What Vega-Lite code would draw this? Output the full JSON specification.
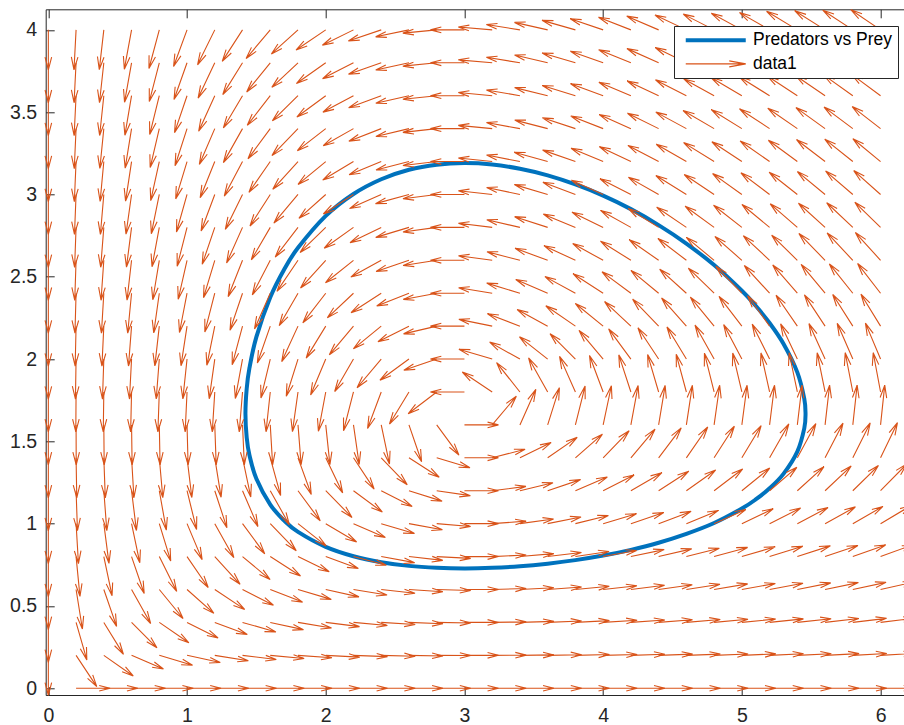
{
"$schema":"https://vega.github.io/schema/vega-lite/v6.json",
"width":858.3,"height":685.7,
"autosize":{"type":"none"},
"padding":{"left":45.7,"top":9.3,"right":0,"bottom":30},
"background":"white",
"config":{"view":{"stroke":null},"axis":{"grid":false,"domainColor":"#262626","domainWidth":1,"tickColor":"#262626","tickWidth":1,"labelColor":"#262626","labelFont":"Liberation Sans","labelFontSize":19.5,"labelFlush":false,"labelOverlap":false}},
"datasets":{
"orbit":[{"t":0,"x":1.421,"y":1.667},{"t":1,"x":1.43,"y":1.524},{"t":2,"x":1.45,"y":1.416},{"t":3,"x":1.5,"y":1.273},{"t":4,"x":1.6,"y":1.116},{"t":5,"x":1.7,"y":1.019},{"t":6,"x":1.8,"y":0.95},{"t":7,"x":2.0,"y":0.859},{"t":8,"x":2.2,"y":0.802},{"t":9,"x":2.4,"y":0.766},{"t":10,"x":2.6,"y":0.7435},{"t":11,"x":2.8,"y":0.732},{"t":12,"x":3.0,"y":0.728},{"t":13,"x":3.2,"y":0.7315},{"t":14,"x":3.4,"y":0.741},{"t":15,"x":3.6,"y":0.757},{"t":16,"x":3.8,"y":0.7785},{"t":17,"x":4.0,"y":0.806},{"t":18,"x":4.2,"y":0.841},{"t":19,"x":4.4,"y":0.884},{"t":20,"x":4.6,"y":0.938},{"t":21,"x":4.8,"y":1.004},{"t":22,"x":5.0,"y":1.092},{"t":23,"x":5.1,"y":1.147},{"t":24,"x":5.2,"y":1.215},{"t":25,"x":5.3,"y":1.3025},{"t":26,"x":5.4,"y":1.438},{"t":27,"x":5.45,"y":1.579},{"t":28,"x":5.459,"y":1.667},{"t":29,"x":5.45,"y":1.76},{"t":30,"x":5.4,"y":1.919},{"t":31,"x":5.3,"y":2.093},{"t":32,"x":5.2,"y":2.219},{"t":33,"x":5.1,"y":2.3235},{"t":34,"x":5.0,"y":2.415},{"t":35,"x":4.8,"y":2.571},{"t":36,"x":4.6,"y":2.702},{"t":37,"x":4.4,"y":2.814},{"t":38,"x":4.2,"y":2.911},{"t":39,"x":4.0,"y":2.993},{"t":40,"x":3.8,"y":3.061},{"t":41,"x":3.6,"y":3.116},{"t":42,"x":3.4,"y":3.156},{"t":43,"x":3.2,"y":3.182},{"t":44,"x":3.0,"y":3.191},{"t":45,"x":2.8,"y":3.181},{"t":46,"x":2.6,"y":3.15},{"t":47,"x":2.4,"y":3.0925},{"t":48,"x":2.2,"y":3.003},{"t":49,"x":2.0,"y":2.87},{"t":50,"x":1.8,"y":2.676},{"t":51,"x":1.7,"y":2.544},{"t":52,"x":1.6,"y":2.375},{"t":53,"x":1.5,"y":2.135},{"t":54,"x":1.45,"y":1.946},{"t":55,"x":1.43,"y":1.819}],
"field":[
{"x":0.2,"y":0,"d":0},{"x":0.4,"y":0,"d":0},{"x":0.6,"y":0,"d":0},{"x":0.8,"y":0,"d":0},{"x":1,"y":0,"d":0},{"x":1.2,"y":0,"d":0},{"x":1.4,"y":0,"d":0},{"x":1.6,"y":0,"d":0},{"x":1.8,"y":0,"d":0},{"x":2,"y":0,"d":0},{"x":2.2,"y":0,"d":0},{"x":2.4,"y":0,"d":0},{"x":2.6,"y":0,"d":0},{"x":2.8,"y":0,"d":0},{"x":3,"y":0,"d":0},{"x":3.2,"y":0,"d":0},{"x":3.4,"y":0,"d":0},{"x":3.6,"y":0,"d":0},{"x":3.8,"y":0,"d":0},{"x":4,"y":0,"d":0},{"x":4.2,"y":0,"d":0},{"x":4.4,"y":0,"d":0},{"x":4.6,"y":0,"d":0},{"x":4.8,"y":0,"d":0},{"x":5,"y":0,"d":0},{"x":5.2,"y":0,"d":0},{"x":5.4,"y":0,"d":0},{"x":5.6,"y":0,"d":0},{"x":5.8,"y":0,"d":0},{"x":6,"y":0,"d":0},
{"x":0,"y":0.2,"d":-90},{"x":0.2,"y":0.2,"d":-56.5},{"x":0.4,"y":0.2,"d":-35},{"x":0.6,"y":0.2,"d":-23.3},{"x":0.8,"y":0.2,"d":-16.5},{"x":1,"y":0.2,"d":-12.2},{"x":1.2,"y":0.2,"d":-9.2},{"x":1.4,"y":0.2,"d":-7},{"x":1.6,"y":0.2,"d":-5.4},{"x":1.8,"y":0.2,"d":-4.1},{"x":2,"y":0.2,"d":-3.1},{"x":2.2,"y":0.2,"d":-2.2},{"x":2.4,"y":0.2,"d":-1.5},{"x":2.6,"y":0.2,"d":-1},{"x":2.8,"y":0.2,"d":-0.4},{"x":3,"y":0.2,"d":0},{"x":3.2,"y":0.2,"d":0.4},{"x":3.4,"y":0.2,"d":0.7},{"x":3.6,"y":0.2,"d":1},{"x":3.8,"y":0.2,"d":1.3},{"x":4,"y":0.2,"d":1.5},{"x":4.2,"y":0.2,"d":1.8},{"x":4.4,"y":0.2,"d":2},{"x":4.6,"y":0.2,"d":2.1},{"x":4.8,"y":0.2,"d":2.3},{"x":5,"y":0.2,"d":2.5},{"x":5.2,"y":0.2,"d":2.6},{"x":5.4,"y":0.2,"d":2.7},{"x":5.6,"y":0.2,"d":2.9},{"x":5.8,"y":0.2,"d":3},{"x":6,"y":0.2,"d":3.1},
{"x":0,"y":0.4,"d":-90},{"x":0.2,"y":0.4,"d":-74},{"x":0.4,"y":0.4,"d":-58.4},{"x":0.6,"y":0.4,"d":-45},{"x":0.8,"y":0.4,"d":-34.5},{"x":1,"y":0.4,"d":-26.6},{"x":1.2,"y":0.4,"d":-20.5},{"x":1.4,"y":0.4,"d":-15.9},{"x":1.6,"y":0.4,"d":-12.3},{"x":1.8,"y":0.4,"d":-9.5},{"x":2,"y":0.4,"d":-7.1},{"x":2.2,"y":0.4,"d":-5.2},{"x":2.4,"y":0.4,"d":-3.6},{"x":2.6,"y":0.4,"d":-2.2},{"x":2.8,"y":0.4,"d":-1},{"x":3,"y":0.4,"d":0},{"x":3.2,"y":0.4,"d":0.9},{"x":3.4,"y":0.4,"d":1.7},{"x":3.6,"y":0.4,"d":2.4},{"x":3.8,"y":0.4,"d":3},{"x":4,"y":0.4,"d":3.6},{"x":4.2,"y":0.4,"d":4.1},{"x":4.4,"y":0.4,"d":4.5},{"x":4.6,"y":0.4,"d":5},{"x":4.8,"y":0.4,"d":5.4},{"x":5,"y":0.4,"d":5.7},{"x":5.2,"y":0.4,"d":6},{"x":5.4,"y":0.4,"d":6.3},{"x":5.6,"y":0.4,"d":6.6},{"x":5.8,"y":0.4,"d":6.9},{"x":6,"y":0.4,"d":7.1},
{"x":0,"y":0.6,"d":-90},{"x":0.2,"y":0.6,"d":-80.9},{"x":0.4,"y":0.6,"d":-70.9},{"x":0.6,"y":0.6,"d":-60.7},{"x":0.8,"y":0.6,"d":-50.7},{"x":1,"y":0.6,"d":-41.7},{"x":1.2,"y":0.6,"d":-33.7},{"x":1.4,"y":0.6,"d":-27},{"x":1.6,"y":0.6,"d":-21.3},{"x":1.8,"y":0.6,"d":-16.5},{"x":2,"y":0.6,"d":-12.5},{"x":2.2,"y":0.6,"d":-9.2},{"x":2.4,"y":0.6,"d":-6.3},{"x":2.6,"y":0.6,"d":-3.9},{"x":2.8,"y":0.6,"d":-1.8},{"x":3,"y":0.6,"d":0},{"x":3.2,"y":0.6,"d":1.6},{"x":3.4,"y":0.6,"d":3},{"x":3.6,"y":0.6,"d":4.2},{"x":3.8,"y":0.6,"d":5.4},{"x":4,"y":0.6,"d":6.3},{"x":4.2,"y":0.6,"d":7.3},{"x":4.4,"y":0.6,"d":8.1},{"x":4.6,"y":0.6,"d":8.8},{"x":4.8,"y":0.6,"d":9.5},{"x":5,"y":0.6,"d":10.1},{"x":5.2,"y":0.6,"d":10.7},{"x":5.4,"y":0.6,"d":11.2},{"x":5.6,"y":0.6,"d":11.7},{"x":5.8,"y":0.6,"d":12.1},{"x":6,"y":0.6,"d":12.5},
{"x":0,"y":0.8,"d":-90},{"x":0.2,"y":0.8,"d":-84.4},{"x":0.4,"y":0.8,"d":-78.1},{"x":0.6,"y":0.8,"d":-71.1},{"x":0.8,"y":0.8,"d":-63.5},{"x":1,"y":0.8,"d":-55.6},{"x":1.2,"y":0.8,"d":-47.6},{"x":1.4,"y":0.8,"d":-39.8},{"x":1.6,"y":0.8,"d":-32.6},{"x":1.8,"y":0.8,"d":-26},{"x":2,"y":0.8,"d":-20.1},{"x":2.2,"y":0.8,"d":-14.9},{"x":2.4,"y":0.8,"d":-10.3},{"x":2.6,"y":0.8,"d":-6.4},{"x":2.8,"y":0.8,"d":-3},{"x":3,"y":0.8,"d":0},{"x":3.2,"y":0.8,"d":2.6},{"x":3.4,"y":0.8,"d":4.9},{"x":3.6,"y":0.8,"d":6.9},{"x":3.8,"y":0.8,"d":8.7},{"x":4,"y":0.8,"d":10.3},{"x":4.2,"y":0.8,"d":11.8},{"x":4.4,"y":0.8,"d":13.1},{"x":4.6,"y":0.8,"d":14.3},{"x":4.8,"y":0.8,"d":15.3},{"x":5,"y":0.8,"d":16.3},{"x":5.2,"y":0.8,"d":17.2},{"x":5.4,"y":0.8,"d":18},{"x":5.6,"y":0.8,"d":18.7},{"x":5.8,"y":0.8,"d":19.4},{"x":6,"y":0.8,"d":20.1},
{"x":0,"y":1,"d":-90},{"x":0.2,"y":1,"d":-86.6},{"x":0.4,"y":1,"d":-82.6},{"x":0.6,"y":1,"d":-78.1},{"x":0.8,"y":1,"d":-73},{"x":1,"y":1,"d":-67.2},{"x":1.2,"y":1,"d":-60.7},{"x":1.4,"y":1,"d":-53.6},{"x":1.6,"y":1,"d":-46.1},{"x":1.8,"y":1,"d":-38.3},{"x":2,"y":1,"d":-30.7},{"x":2.2,"y":1,"d":-23.3},{"x":2.4,"y":1,"d":-16.5},{"x":2.6,"y":1,"d":-10.3},{"x":2.8,"y":1,"d":-4.8},{"x":3,"y":1,"d":0},{"x":3.2,"y":1,"d":4.2},{"x":3.4,"y":1,"d":8},{"x":3.6,"y":1,"d":11.2},{"x":3.8,"y":1,"d":14},{"x":4,"y":1,"d":16.5},{"x":4.2,"y":1,"d":18.7},{"x":4.4,"y":1,"d":20.7},{"x":4.6,"y":1,"d":22.4},{"x":4.8,"y":1,"d":24},{"x":5,"y":1,"d":25.4},{"x":5.2,"y":1,"d":26.7},{"x":5.4,"y":1,"d":27.8},{"x":5.6,"y":1,"d":28.9},{"x":5.8,"y":1,"d":29.8},{"x":6,"y":1,"d":30.7},
{"x":0,"y":1.2,"d":-90},{"x":0.2,"y":1.2,"d":-88},{"x":0.4,"y":1.2,"d":-85.7},{"x":0.6,"y":1.2,"d":-83},{"x":0.8,"y":1.2,"d":-79.9},{"x":1,"y":1.2,"d":-76.2},{"x":1.2,"y":1.2,"d":-71.9},{"x":1.4,"y":1.2,"d":-66.7},{"x":1.6,"y":1.2,"d":-60.7},{"x":1.8,"y":1.2,"d":-53.6},{"x":2,"y":1.2,"d":-45.5},{"x":2.2,"y":1.2,"d":-36.5},{"x":2.4,"y":1.2,"d":-27},{"x":2.6,"y":1.2,"d":-17.4},{"x":2.8,"y":1.2,"d":-8.3},{"x":3,"y":1.2,"d":0},{"x":3.2,"y":1.2,"d":7.3},{"x":3.4,"y":1.2,"d":13.5},{"x":3.6,"y":1.2,"d":18.7},{"x":3.8,"y":1.2,"d":23.2},{"x":4,"y":1.2,"d":27},{"x":4.2,"y":1.2,"d":30.2},{"x":4.4,"y":1.2,"d":32.9},{"x":4.6,"y":1.2,"d":35.3},{"x":4.8,"y":1.2,"d":37.3},{"x":5,"y":1.2,"d":39.1},{"x":5.2,"y":1.2,"d":40.7},{"x":5.4,"y":1.2,"d":42.1},{"x":5.6,"y":1.2,"d":43.4},{"x":5.8,"y":1.2,"d":44.5},{"x":6,"y":1.2,"d":45.5},
{"x":0,"y":1.4,"d":-90},{"x":0.2,"y":1.4,"d":-89},{"x":0.4,"y":1.4,"d":-87.9},{"x":0.6,"y":1.4,"d":-86.6},{"x":0.8,"y":1.4,"d":-85},{"x":1,"y":1.4,"d":-83.1},{"x":1.2,"y":1.4,"d":-80.9},{"x":1.4,"y":1.4,"d":-78.1},{"x":1.6,"y":1.4,"d":-74.6},{"x":1.8,"y":1.4,"d":-70.1},{"x":2,"y":1.4,"d":-64.3},{"x":2.2,"y":1.4,"d":-56.5},{"x":2.4,"y":1.4,"d":-46.1},{"x":2.6,"y":1.4,"d":-32.6},{"x":2.8,"y":1.4,"d":-16.5},{"x":3,"y":1.4,"d":0},{"x":3.2,"y":1.4,"d":14.6},{"x":3.4,"y":1.4,"d":26},{"x":3.6,"y":1.4,"d":34.7},{"x":3.8,"y":1.4,"d":41.2},{"x":4,"y":1.4,"d":46.1},{"x":4.2,"y":1.4,"d":49.9},{"x":4.4,"y":1.4,"d":52.9},{"x":4.6,"y":1.4,"d":55.3},{"x":4.8,"y":1.4,"d":57.3},{"x":5,"y":1.4,"d":59},{"x":5.2,"y":1.4,"d":60.4},{"x":5.4,"y":1.4,"d":61.6},{"x":5.6,"y":1.4,"d":62.6},{"x":5.8,"y":1.4,"d":63.5},{"x":6,"y":1.4,"d":64.3},
{"x":0,"y":1.6,"d":-90},{"x":0.2,"y":1.6,"d":-89.8},{"x":0.4,"y":1.6,"d":-89.5},{"x":0.6,"y":1.6,"d":-89.2},{"x":0.8,"y":1.6,"d":-88.9},{"x":1,"y":1.6,"d":-88.5},{"x":1.2,"y":1.6,"d":-88},{"x":1.4,"y":1.6,"d":-87.4},{"x":1.6,"y":1.6,"d":-86.6},{"x":1.8,"y":1.6,"d":-85.5},{"x":2,"y":1.6,"d":-84},{"x":2.2,"y":1.6,"d":-81.8},{"x":2.4,"y":1.6,"d":-78.1},{"x":2.6,"y":1.6,"d":-71.1},{"x":2.8,"y":1.6,"d":-53.6},{"x":3,"y":1.6,"d":0},{"x":3.2,"y":1.6,"d":49.9},{"x":3.4,"y":1.6,"d":65.9},{"x":3.6,"y":1.6,"d":72.5},{"x":3.8,"y":1.6,"d":76},{"x":4,"y":1.6,"d":78.1},{"x":4.2,"y":1.6,"d":79.6},{"x":4.4,"y":1.6,"d":80.6},{"x":4.6,"y":1.6,"d":81.4},{"x":4.8,"y":1.6,"d":82},{"x":5,"y":1.6,"d":82.5},{"x":5.2,"y":1.6,"d":82.9},{"x":5.4,"y":1.6,"d":83.2},{"x":5.6,"y":1.6,"d":83.5},{"x":5.8,"y":1.6,"d":83.8},{"x":6,"y":1.6,"d":84},
{"x":0,"y":1.8,"d":-90},{"x":0.2,"y":1.8,"d":-90.4},{"x":0.4,"y":1.8,"d":-90.8},{"x":0.6,"y":1.8,"d":-91.3},{"x":0.8,"y":1.8,"d":-92},{"x":1,"y":1.8,"d":-92.7},{"x":1.2,"y":1.8,"d":-93.6},{"x":1.4,"y":1.8,"d":-94.7},{"x":1.6,"y":1.8,"d":-96.1},{"x":1.8,"y":1.8,"d":-98},{"x":2,"y":1.8,"d":-100.6},{"x":2.2,"y":1.8,"d":-104.4},{"x":2.4,"y":1.8,"d":-110.5},{"x":2.6,"y":1.8,"d":-121.3},{"x":2.8,"y":1.8,"d":-142.7},{"x":3,"y":1.8,"d":180},{"x":3.2,"y":1.8,"d":146.3},{"x":3.4,"y":1.8,"d":128.5},{"x":3.6,"y":1.8,"d":119.3},{"x":3.8,"y":1.8,"d":114},{"x":4,"y":1.8,"d":110.5},{"x":4.2,"y":1.8,"d":108.1},{"x":4.4,"y":1.8,"d":106.4},{"x":4.6,"y":1.8,"d":105.1},{"x":4.8,"y":1.8,"d":104},{"x":5,"y":1.8,"d":103.2},{"x":5.2,"y":1.8,"d":102.5},{"x":5.4,"y":1.8,"d":101.9},{"x":5.6,"y":1.8,"d":101.4},{"x":5.8,"y":1.8,"d":101},{"x":6,"y":1.8,"d":100.6},
{"x":0,"y":2,"d":-90},{"x":0.2,"y":2,"d":-90.9},{"x":0.4,"y":2,"d":-91.9},{"x":0.6,"y":2,"d":-93},{"x":0.8,"y":2,"d":-94.4},{"x":1,"y":2,"d":-96},{"x":1.2,"y":2,"d":-98},{"x":1.4,"y":2,"d":-100.4},{"x":1.6,"y":2,"d":-103.5},{"x":1.8,"y":2,"d":-107.5},{"x":2,"y":2,"d":-112.8},{"x":2.2,"y":2,"d":-120.1},{"x":2.4,"y":2,"d":-130.1},{"x":2.6,"y":2,"d":-143.9},{"x":2.8,"y":2,"d":-161.3},{"x":3,"y":2,"d":180},{"x":3.2,"y":2,"d":163.5},{"x":3.4,"y":2,"d":150.8},{"x":3.6,"y":2,"d":141.7},{"x":3.8,"y":2,"d":135},{"x":4,"y":2,"d":130.1},{"x":4.2,"y":2,"d":126.4},{"x":4.4,"y":2,"d":123.5},{"x":4.6,"y":2,"d":121.2},{"x":4.8,"y":2,"d":119.3},{"x":5,"y":2,"d":117.8},{"x":5.2,"y":2,"d":116.5},{"x":5.4,"y":2,"d":115.4},{"x":5.6,"y":2,"d":114.4},{"x":5.8,"y":2,"d":113.6},{"x":6,"y":2,"d":112.8},
{"x":0,"y":2.2,"d":-90},{"x":0.2,"y":2.2,"d":-91.3},{"x":0.4,"y":2.2,"d":-92.7},{"x":0.6,"y":2.2,"d":-94.4},{"x":0.8,"y":2.2,"d":-96.4},{"x":1,"y":2.2,"d":-98.7},{"x":1.2,"y":2.2,"d":-101.5},{"x":1.4,"y":2.2,"d":-105},{"x":1.6,"y":2.2,"d":-109.3},{"x":1.8,"y":2.2,"d":-114.7},{"x":2,"y":2.2,"d":-121.5},{"x":2.2,"y":2.2,"d":-130.1},{"x":2.4,"y":2.2,"d":-140.8},{"x":2.6,"y":2.2,"d":-153.3},{"x":2.8,"y":2.2,"d":-166.9},{"x":3,"y":2.2,"d":180},{"x":3.2,"y":2.2,"d":168.5},{"x":3.4,"y":2.2,"d":159},{"x":3.6,"y":2.2,"d":151.5},{"x":3.8,"y":2.2,"d":145.5},{"x":4,"y":2.2,"d":140.8},{"x":4.2,"y":2.2,"d":137},{"x":4.4,"y":2.2,"d":133.9},{"x":4.6,"y":2.2,"d":131.4},{"x":4.8,"y":2.2,"d":129.3},{"x":5,"y":2.2,"d":127.5},{"x":5.2,"y":2.2,"d":125.9},{"x":5.4,"y":2.2,"d":124.6},{"x":5.6,"y":2.2,"d":123.4},{"x":5.8,"y":2.2,"d":122.4},{"x":6,"y":2.2,"d":121.5},
{"x":0,"y":2.4,"d":-90},{"x":0.2,"y":2.4,"d":-91.6},{"x":0.4,"y":2.4,"d":-93.4},{"x":0.6,"y":2.4,"d":-95.5},{"x":0.8,"y":2.4,"d":-98},{"x":1,"y":2.4,"d":-100.9},{"x":1.2,"y":2.4,"d":-104.4},{"x":1.4,"y":2.4,"d":-108.7},{"x":1.6,"y":2.4,"d":-113.8},{"x":1.8,"y":2.4,"d":-120.1},{"x":2,"y":2.4,"d":-127.7},{"x":2.2,"y":2.4,"d":-136.7},{"x":2.4,"y":2.4,"d":-147.1},{"x":2.6,"y":2.4,"d":-158.3},{"x":2.8,"y":2.4,"d":-169.5},{"x":3,"y":2.4,"d":180},{"x":3.2,"y":2.4,"d":170.8},{"x":3.4,"y":2.4,"d":163.1},{"x":3.6,"y":2.4,"d":156.7},{"x":3.8,"y":2.4,"d":151.4},{"x":4,"y":2.4,"d":147.1},{"x":4.2,"y":2.4,"d":143.5},{"x":4.4,"y":2.4,"d":140.5},{"x":4.6,"y":2.4,"d":138},{"x":4.8,"y":2.4,"d":135.8},{"x":5,"y":2.4,"d":134},{"x":5.2,"y":2.4,"d":132.4},{"x":5.4,"y":2.4,"d":131},{"x":5.6,"y":2.4,"d":129.7},{"x":5.8,"y":2.4,"d":128.7},{"x":6,"y":2.4,"d":127.7},
{"x":0,"y":2.6,"d":-90},{"x":0.2,"y":2.6,"d":-91.9},{"x":0.4,"y":2.6,"d":-94},{"x":0.6,"y":2.6,"d":-96.5},{"x":0.8,"y":2.6,"d":-99.4},{"x":1,"y":2.6,"d":-102.8},{"x":1.2,"y":2.6,"d":-106.8},{"x":1.4,"y":2.6,"d":-111.6},{"x":1.6,"y":2.6,"d":-117.4},{"x":1.8,"y":2.6,"d":-124.2},{"x":2,"y":2.6,"d":-132.2},{"x":2.2,"y":2.6,"d":-141.3},{"x":2.4,"y":2.6,"d":-151.1},{"x":2.6,"y":2.6,"d":-161.3},{"x":2.8,"y":2.6,"d":-171.1},{"x":3,"y":2.6,"d":180},{"x":3.2,"y":2.6,"d":172.2},{"x":3.4,"y":2.6,"d":165.5},{"x":3.6,"y":2.6,"d":159.8},{"x":3.8,"y":2.6,"d":155.1},{"x":4,"y":2.6,"d":151.2},{"x":4.2,"y":2.6,"d":147.8},{"x":4.4,"y":2.6,"d":145},{"x":4.6,"y":2.6,"d":142.5},{"x":4.8,"y":2.6,"d":140.4},{"x":5,"y":2.6,"d":138.6},{"x":5.2,"y":2.6,"d":137},{"x":5.4,"y":2.6,"d":135.6},{"x":5.6,"y":2.6,"d":134.3},{"x":5.8,"y":2.6,"d":133.2},{"x":6,"y":2.6,"d":132.2},
{"x":0,"y":2.8,"d":-90},{"x":0.2,"y":2.8,"d":-92.1},{"x":0.4,"y":2.8,"d":-94.5},{"x":0.6,"y":2.8,"d":-97.3},{"x":0.8,"y":2.8,"d":-100.5},{"x":1,"y":2.8,"d":-104.3},{"x":1.2,"y":2.8,"d":-108.8},{"x":1.4,"y":2.8,"d":-114.1},{"x":1.6,"y":2.8,"d":-120.3},{"x":1.8,"y":2.8,"d":-127.5},{"x":2,"y":2.8,"d":-135.7},{"x":2.2,"y":2.8,"d":-144.6},{"x":2.4,"y":2.8,"d":-154},{"x":2.6,"y":2.8,"d":-163.3},{"x":2.8,"y":2.8,"d":-172.1},{"x":3,"y":2.8,"d":180},{"x":3.2,"y":2.8,"d":173},{"x":3.4,"y":2.8,"d":167},{"x":3.6,"y":2.8,"d":162},{"x":3.8,"y":2.8,"d":157.6},{"x":4,"y":2.8,"d":154},{"x":4.2,"y":2.8,"d":150.8},{"x":4.4,"y":2.8,"d":148.1},{"x":4.6,"y":2.8,"d":145.8},{"x":4.8,"y":2.8,"d":143.8},{"x":5,"y":2.8,"d":142},{"x":5.2,"y":2.8,"d":140.4},{"x":5.4,"y":2.8,"d":139},{"x":5.6,"y":2.8,"d":137.8},{"x":5.8,"y":2.8,"d":136.7},{"x":6,"y":2.8,"d":135.7},
{"x":0,"y":3,"d":-90},{"x":0.2,"y":3,"d":-92.3},{"x":0.4,"y":3,"d":-94.9},{"x":0.6,"y":3,"d":-98},{"x":0.8,"y":3,"d":-101.5},{"x":1,"y":3,"d":-105.7},{"x":1.2,"y":3,"d":-110.5},{"x":1.4,"y":3,"d":-116.2},{"x":1.6,"y":3,"d":-122.7},{"x":1.8,"y":3,"d":-130.1},{"x":2,"y":3,"d":-138.3},{"x":2.2,"y":3,"d":-147.1},{"x":2.4,"y":3,"d":-156},{"x":2.6,"y":3,"d":-164.7},{"x":2.8,"y":3,"d":-172.8},{"x":3,"y":3,"d":180},{"x":3.2,"y":3,"d":173.7},{"x":3.4,"y":3,"d":168.2},{"x":3.6,"y":3,"d":163.5},{"x":3.8,"y":3,"d":159.5},{"x":4,"y":3,"d":156},{"x":4.2,"y":3,"d":153},{"x":4.4,"y":3,"d":150.5},{"x":4.6,"y":3,"d":148.2},{"x":4.8,"y":3,"d":146.3},{"x":5,"y":3,"d":144.5},{"x":5.2,"y":3,"d":143},{"x":5.4,"y":3,"d":141.7},{"x":5.6,"y":3,"d":140.4},{"x":5.8,"y":3,"d":139.3},{"x":6,"y":3,"d":138.3},
{"x":0,"y":3.2,"d":-90},{"x":0.2,"y":3.2,"d":-92.5},{"x":0.4,"y":3.2,"d":-95.3},{"x":0.6,"y":3.2,"d":-98.6},{"x":0.8,"y":3.2,"d":-102.4},{"x":1,"y":3.2,"d":-106.9},{"x":1.2,"y":3.2,"d":-112},{"x":1.4,"y":3.2,"d":-117.9},{"x":1.6,"y":3.2,"d":-124.7},{"x":1.8,"y":3.2,"d":-132.3},{"x":2,"y":3.2,"d":-140.5},{"x":2.2,"y":3.2,"d":-149},{"x":2.4,"y":3.2,"d":-157.6},{"x":2.6,"y":3.2,"d":-165.7},{"x":2.8,"y":3.2,"d":-173.3},{"x":3,"y":3.2,"d":180},{"x":3.2,"y":3.2,"d":174.1},{"x":3.4,"y":3.2,"d":169},{"x":3.6,"y":3.2,"d":164.6},{"x":3.8,"y":3.2,"d":160.8},{"x":4,"y":3.2,"d":157.6},{"x":4.2,"y":3.2,"d":154.8},{"x":4.4,"y":3.2,"d":152.3},{"x":4.6,"y":3.2,"d":150.1},{"x":4.8,"y":3.2,"d":148.2},{"x":5,"y":3.2,"d":146.6},{"x":5.2,"y":3.2,"d":145.1},{"x":5.4,"y":3.2,"d":143.7},{"x":5.6,"y":3.2,"d":142.5},{"x":5.8,"y":3.2,"d":141.4},{"x":6,"y":3.2,"d":140.5},
{"x":0,"y":3.4,"d":-90},{"x":0.2,"y":3.4,"d":-92.6},{"x":0.4,"y":3.4,"d":-95.7},{"x":0.6,"y":3.4,"d":-99.2},{"x":0.8,"y":3.4,"d":-103.2},{"x":1,"y":3.4,"d":-107.9},{"x":1.2,"y":3.4,"d":-113.3},{"x":1.4,"y":3.4,"d":-119.4},{"x":1.6,"y":3.4,"d":-126.4},{"x":1.8,"y":3.4,"d":-134},{"x":2,"y":3.4,"d":-142.2},{"x":2.2,"y":3.4,"d":-150.6},{"x":2.4,"y":3.4,"d":-158.8},{"x":2.6,"y":3.4,"d":-166.6},{"x":2.8,"y":3.4,"d":-173.7},{"x":3,"y":3.4,"d":180},{"x":3.2,"y":3.4,"d":174.5},{"x":3.4,"y":3.4,"d":169.7},{"x":3.6,"y":3.4,"d":165.5},{"x":3.8,"y":3.4,"d":161.9},{"x":4,"y":3.4,"d":158.8},{"x":4.2,"y":3.4,"d":156.1},{"x":4.4,"y":3.4,"d":153.7},{"x":4.6,"y":3.4,"d":151.6},{"x":4.8,"y":3.4,"d":149.8},{"x":5,"y":3.4,"d":148.2},{"x":5.2,"y":3.4,"d":146.7},{"x":5.4,"y":3.4,"d":145.4},{"x":5.6,"y":3.4,"d":144.2},{"x":5.8,"y":3.4,"d":143.2},{"x":6,"y":3.4,"d":142.2},
{"x":0,"y":3.6,"d":-90},{"x":0.2,"y":3.6,"d":-92.8},{"x":0.4,"y":3.6,"d":-96},{"x":0.6,"y":3.6,"d":-99.6},{"x":0.8,"y":3.6,"d":-103.9},{"x":1,"y":3.6,"d":-108.7},{"x":1.2,"y":3.6,"d":-114.4},{"x":1.4,"y":3.6,"d":-120.7},{"x":1.6,"y":3.6,"d":-127.8},{"x":1.8,"y":3.6,"d":-135.5},{"x":2,"y":3.6,"d":-143.6},{"x":2.2,"y":3.6,"d":-151.8},{"x":2.4,"y":3.6,"d":-159.8},{"x":2.6,"y":3.6,"d":-167.2},{"x":2.8,"y":3.6,"d":-174},{"x":3,"y":3.6,"d":180},{"x":3.2,"y":3.6,"d":174.7},{"x":3.4,"y":3.6,"d":170.2},{"x":3.6,"y":3.6,"d":166.2},{"x":3.8,"y":3.6,"d":162.8},{"x":4,"y":3.6,"d":159.8},{"x":4.2,"y":3.6,"d":157.2},{"x":4.4,"y":3.6,"d":154.9},{"x":4.6,"y":3.6,"d":152.9},{"x":4.8,"y":3.6,"d":151.1},{"x":5,"y":3.6,"d":149.5},{"x":5.2,"y":3.6,"d":148.1},{"x":5.4,"y":3.6,"d":146.8},{"x":5.6,"y":3.6,"d":145.6},{"x":5.8,"y":3.6,"d":144.6},{"x":6,"y":3.6,"d":143.6},
{"x":0,"y":3.8,"d":-90},{"x":0.2,"y":3.8,"d":-92.9},{"x":0.4,"y":3.8,"d":-96.2},{"x":0.6,"y":3.8,"d":-100.1},{"x":0.8,"y":3.8,"d":-104.5},{"x":1,"y":3.8,"d":-109.5},{"x":1.2,"y":3.8,"d":-115.3},{"x":1.4,"y":3.8,"d":-121.8},{"x":1.6,"y":3.8,"d":-129},{"x":1.8,"y":3.8,"d":-136.8},{"x":2,"y":3.8,"d":-144.8},{"x":2.2,"y":3.8,"d":-152.9},{"x":2.4,"y":3.8,"d":-160.6},{"x":2.6,"y":3.8,"d":-167.8},{"x":2.8,"y":3.8,"d":-174.3},{"x":3,"y":3.8,"d":180},{"x":3.2,"y":3.8,"d":175},{"x":3.4,"y":3.8,"d":170.6},{"x":3.6,"y":3.8,"d":166.8},{"x":3.8,"y":3.8,"d":163.5},{"x":4,"y":3.8,"d":160.6},{"x":4.2,"y":3.8,"d":158.1},{"x":4.4,"y":3.8,"d":155.9},{"x":4.6,"y":3.8,"d":153.9},{"x":4.8,"y":3.8,"d":152.1},{"x":5,"y":3.8,"d":150.6},{"x":5.2,"y":3.8,"d":149.2},{"x":5.4,"y":3.8,"d":147.9},{"x":5.6,"y":3.8,"d":146.8},{"x":5.8,"y":3.8,"d":145.8},{"x":6,"y":3.8,"d":144.8},
{"x":0,"y":4,"d":-90},{"x":0.2,"y":4,"d":-93},{"x":0.4,"y":4,"d":-96.5},{"x":0.6,"y":4,"d":-100.4},{"x":0.8,"y":4,"d":-105},{"x":1,"y":4,"d":-110.2},{"x":1.2,"y":4,"d":-116.2},{"x":1.4,"y":4,"d":-122.8},{"x":1.6,"y":4,"d":-130.1},{"x":1.8,"y":4,"d":-137.9},{"x":2,"y":4,"d":-145.9},{"x":2.2,"y":4,"d":-153.7},{"x":2.4,"y":4,"d":-161.3},{"x":2.6,"y":4,"d":-168.2},{"x":2.8,"y":4,"d":-174.5},{"x":3,"y":4,"d":180},{"x":3.2,"y":4,"d":175.2},{"x":3.4,"y":4,"d":170.9},{"x":3.6,"y":4,"d":167.3},{"x":3.8,"y":4,"d":164.1},{"x":4,"y":4,"d":161.3},{"x":4.2,"y":4,"d":158.8},{"x":4.4,"y":4,"d":156.7},{"x":4.6,"y":4,"d":154.8},{"x":4.8,"y":4,"d":153},{"x":5,"y":4,"d":151.5},{"x":5.2,"y":4,"d":150.2},{"x":5.4,"y":4,"d":148.9},{"x":5.6,"y":4,"d":147.8},{"x":5.8,"y":4,"d":146.8},{"x":6,"y":4,"d":145.9}
]},
"layer":[
{"data":{"name":"orbit"},
 "mark":{"type":"line","interpolate":"cardinal-closed","strokeWidth":4,"strokeJoin":"round"},
 "encoding":{
  "x":{"field":"x","type":"quantitative","scale":{"domain":[-0.019,6.169],"nice":false,"zero":false},
       "axis":{"orient":"bottom","values":[0,1,2,3,4,5,6],"title":null,"tickSize":-8.5,"labelPadding":20.3,"labelExpr":"'' + datum.value"}},
  "y":{"field":"y","type":"quantitative","scale":{"domain":[-0.041,4.125],"nice":false,"zero":false},
       "axis":{"orient":"left","values":[0,0.5,1,1.5,2,2.5,3,3.5,4],"title":null,"tickSize":-8.5,"labelPadding":17.5,"labelExpr":"'' + datum.value"}},
  "order":{"field":"t","type":"quantitative"},
  "color":{"datum":"Predators vs Prey","type":"nominal",
    "scale":{"domain":["Predators vs Prey","data1"],"range":["#0072BD","#D95319"]},
    "legend":{"orient":"none","legendX":628.3,"legendY":16.7,"title":null,"padding":5.5,"rowPadding":4.6,
      "strokeColor":"#262626","fillColor":"#ffffff","symbolSize":100,"symbolOpacity":1,
      "labelFont":"Liberation Sans","labelFontSize":17.5,"labelColor":"#000000","labelOffset":56,"labelLimit":300,
      "encode":{"symbols":{"update":{
        "shape":{"signal":"datum.value === 'data1' ? 'M-0.5,0L11.5,0M8.2,-0.6L11.5,0L8.2,0.6' : 'M-0.5,0L11.5,0'"},
        "strokeWidth":{"signal":"datum.value === 'data1' ? 1.1 : 4"},
        "fill":{"value":"transparent"},
        "stroke":{"signal":"scale('color', datum.value)"}}}}}}
 }},
{"data":{"name":"field"},
 "mark":{"type":"point","shape":"M0,0L2,0M1.36,-0.165L2,0L1.36,0.165","filled":false,"strokeWidth":1.1,"opacity":1},
 "encoding":{
  "x":{"field":"x","type":"quantitative","scale":{"domain":[-0.019,6.169],"nice":false,"zero":false},
       "axis":{"orient":"top","values":[0,1,2,3,4,5,6],"title":null,"labels":false,"tickSize":-8.5}},
  "y":{"field":"y","type":"quantitative","scale":{"domain":[-0.041,4.125],"nice":false,"zero":false},
       "axis":{"orient":"left","values":[0,0.5,1,1.5,2,2.5,3,3.5,4],"title":null,"tickSize":-8.5,"labelPadding":17.5,"labelExpr":"'' + datum.value"}},
  "angle":{"field":"d","type":"quantitative","scale":{"domain":[-180,180],"range":[180,-180]}},
  "size":{"field":"d","type":"quantitative","legend":null,
    "scale":{"type":"threshold","domain":[-165,-150,-135,-120,-105,-75,-60,-45,-30,-15,15,30,45,60,75,105,120,135,150,165],
             "range":[1156,1204,1289,1406,1521,1600,1521,1406,1289,1204,1156,1204,1289,1406,1521,1600,1521,1406,1289,1204,1156]}},
  "color":{"datum":"data1","type":"nominal"}
 }}
],
"resolve":{"axis":{"x":"independent"}}
}
